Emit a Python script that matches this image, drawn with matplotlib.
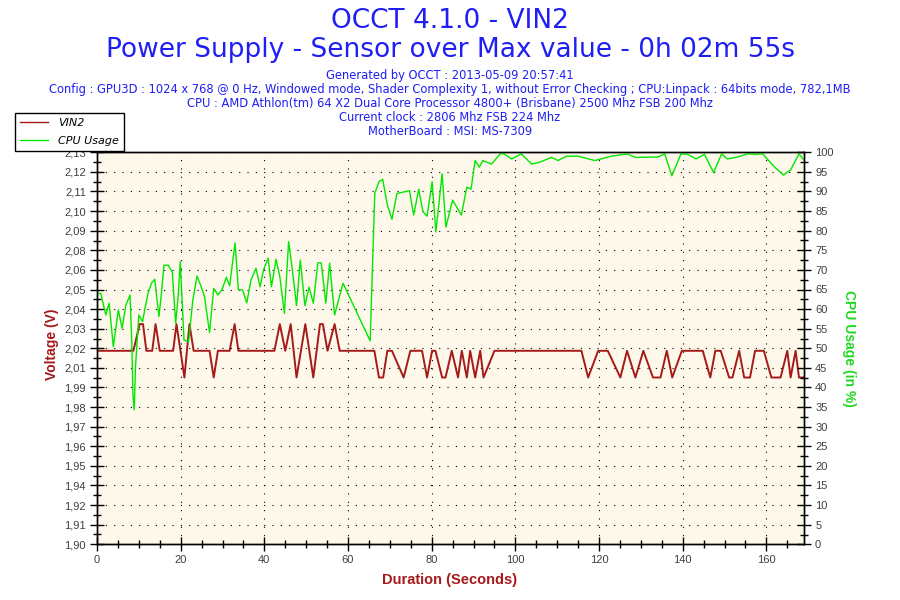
import numpy as np
import matplotlib
matplotlib.use('Agg')
import matplotlib.pyplot as plt
from matplotlib import font_manager
from matplotlib.lines import Line2D
from matplotlib.ticker import FixedLocator, FixedFormatter, MultipleLocator

# VIN2 (Volts) - knots
vin_t = [0, 8.7, 10.2, 11.0, 11.8, 13.2, 14.0, 15.0, 18.2, 19.0,
         20.9, 22.1, 23.1, 26.9, 27.9, 28.9, 31.7, 32.9, 33.8, 42.4,
         43.7, 45.0, 46.3, 47.7, 49.8, 51.7, 53.3, 54.0, 55.1, 56.8,
         58.0, 66.3, 67.4, 68.4, 69.4, 70.5, 73.3, 74.9, 77.7, 78.9,
         80.1, 80.9, 82.5, 83.3, 84.8, 86.3, 87.2, 88.4, 89.2, 90.4,
         91.6, 92.4, 95.0, 115.8, 117.4, 119.8, 122.1, 125.1, 126.7, 128.7,
         130.6, 132.9, 134.7, 136.2, 137.5, 139.8, 144.8, 146.6, 147.8, 149.1,
         151.1, 151.9, 153.5, 154.7, 156.1, 157.3, 159.4, 161.2, 163.4, 165.0,
         165.8, 167.0, 167.8, 169.0]
vin_v = [2.016, 2.016, 2.032, 2.032, 2.016, 2.016, 2.032, 2.016, 2.016, 2.032,
         2.000, 2.032, 2.016, 2.016, 2.000, 2.016, 2.016, 2.032, 2.016, 2.016,
         2.032, 2.016, 2.032, 2.000, 2.032, 2.000, 2.032, 2.032, 2.016, 2.032,
         2.016, 2.016, 2.000, 2.000, 2.016, 2.016, 2.000, 2.016, 2.016, 2.000,
         2.016, 2.016, 2.000, 2.000, 2.016, 2.000, 2.016, 2.000, 2.016, 2.000,
         2.016, 2.000, 2.016, 2.016, 2.000, 2.016, 2.016, 2.000, 2.016, 2.000,
         2.016, 2.000, 2.000, 2.016, 2.000, 2.016, 2.016, 2.000, 2.016, 2.016,
         2.000, 2.000, 2.016, 2.000, 2.000, 2.016, 2.016, 2.000, 2.000, 2.016,
         2.000, 2.016, 2.000, 2.000]

# CPU usage (%)
cpu_t = [0, 0.9, 2.1, 2.9, 3.9, 5.1, 6.0, 6.9, 7.9, 8.3,
         8.6, 8.9, 9.2, 10.0, 10.9, 11.4, 12.2, 13.0, 13.8, 14.8,
         15.4, 16.0, 17.0, 18.0, 18.8, 19.4, 19.9, 20.8, 21.9, 22.9,
         23.9, 24.9, 25.7, 26.9, 27.9, 28.9, 29.9, 30.9, 31.7, 33.0,
         33.8, 34.8, 35.8, 36.8, 38.0, 39.0, 39.8, 40.9, 41.7, 42.8,
         43.7, 44.8, 45.8, 46.7, 47.7, 48.6, 49.7, 50.7, 51.7, 52.8,
         53.6, 54.7, 55.6, 56.8, 58.8, 65.3, 66.4, 67.4, 68.3, 69.4,
         70.5, 71.7, 74.7, 75.7, 76.9, 77.9, 78.9, 80.1, 81.0, 82.5,
         83.4, 85.0, 87.1, 88.4, 89.4, 90.4, 91.4, 92.2, 94.3, 96.4,
         97.3, 99.1, 101.4, 103.9, 105.9, 108.6, 110.2, 112.2, 115.0, 119.0,
         122.9, 126.8, 128.6, 134.1, 135.7, 137.4, 139.6, 141.2, 143.2, 145.2,
         147.4, 149.3, 150.7, 153.1, 155.5, 157.5, 159.1, 161.9, 164.1, 165.8,
         167.8, 169.0]
cpu_v = [64, 64, 58.5, 61.5, 50.4, 59.8, 55.1, 61, 63.6, 52.1,
         37.7, 34.3, 45.3, 58.5, 56.8, 59.8, 64, 66.6, 67.6, 58.1,
         64, 71.2, 71.2, 69.5, 56.4, 63.2, 72.1, 52.1, 51.7, 62.3,
         68.4, 65.7, 63.2, 54, 65.3, 63.6, 65, 68.1, 65.9, 76.9,
         64.9, 64.9, 61.6, 67.4, 70.4, 65.7, 70, 73, 65.7, 72.7,
         68.3, 58.9, 77.2, 70, 60.9, 72.5, 60.9, 65.6, 61.5, 71.8,
         71.8, 61.5, 71.7, 58.5, 66.6, 51.9, 89.5, 92.5, 93.1, 86.6,
         82.9, 89.5, 90.2, 84, 90.6, 84.9, 83.7, 92.5, 79.7, 94.5,
         80.9, 87.8, 84, 91.1, 90.6, 97.9, 96.2, 97.9, 97, 99.6,
         99.6, 98.3, 99.6, 97, 97.5, 98.7, 97.9, 99, 99, 97.9,
         99, 99.6, 98.7, 98.8, 99.6, 94, 99.6, 99.5, 98.3, 99.5,
         94.8, 99.6, 98.3, 98.8, 99.6, 99.5, 99.6, 96.3, 94.2, 95.5,
         99.6, 98]

volt_labels = ['1,90', '1,91', '1,92', '1,94', '1,95', '1,96', '1,97', '1,98', '1,99', '2,01',
               '2,02', '2,03', '2,04', '2,05', '2,06', '2,08', '2,09', '2,10', '2,11', '2,12', '2,13']

title1 = 'OCCT 4.1.0 - VIN2'
title2 = 'Power Supply - Sensor over Max value - 0h 02m 55s'
info_lines = ['Generated by OCCT : 2013-05-09 20:57:41',
              'Config : GPU3D : 1024 x 768 @ 0 Hz, Windowed mode, Shader Complexity 1, without Error Checking ; CPU:Linpack : 64bits mode, 782,1MB',
              'CPU : AMD Athlon(tm) 64 X2 Dual Core Processor 4800+ (Brisbane) 2500 Mhz FSB 200 Mhz',
              'Current clock : 2806 Mhz FSB 224 Mhz',
              'MotherBoard : MSI: MS-7309']

RED = '#A51A1A'
GREEN = '#00E800'
BLUE = '#1E1EF5'
TICKC = '#404040'

names = {f.name for f in font_manager.fontManager.ttflist}
if 'Liberation Sans Narrow' in names:
    narrow = dict(family='Liberation Sans Narrow')
else:
    narrow = dict(family='Liberation Sans', stretch='condensed')

fig = plt.figure(figsize=(9, 6), dpi=100)
ax = fig.add_axes([97 / 900, 1 - 544.3 / 600, (804 - 97) / 900, (544.3 - 152.3) / 600])
ax.set_facecolor('#FDF8E9')

ax2 = ax.twinx()
ax2.plot(cpu_t, cpu_v, color=GREEN, lw=1.0)
ax.plot(vin_t, vin_v, color=RED, lw=1.4)

ax.set_xlim(0, 169)
ax.set_ylim(1.90, 2.135)
ax2.set_ylim(0, 100)

vt = np.linspace(1.90, 2.135, 21)
ax.yaxis.set_major_locator(FixedLocator(vt))
ax.yaxis.set_major_formatter(FixedFormatter(volt_labels))
ax.yaxis.set_minor_locator(FixedLocator((vt[:-1] + vt[1:]) / 2))
ax.xaxis.set_major_locator(MultipleLocator(20))
ax.xaxis.set_minor_locator(MultipleLocator(5))
ax2.yaxis.set_major_locator(MultipleLocator(5))
ax2.yaxis.set_minor_locator(MultipleLocator(2.5))

for a in (ax, ax2):
    a.tick_params(which='major', direction='inout', length=10, width=1,
                  labelsize=8, labelcolor=TICKC, pad=3)
    a.tick_params(which='minor', direction='inout', length=6, width=1)
    for s in a.spines.values():
        s.set_color('black')
        s.set_linewidth(1)
for lab in ax.get_xticklabels() + ax.get_yticklabels() + ax2.get_yticklabels():
    lab.set_family('Liberation Sans')

ax.grid(True, which='major', color='black', linestyle=(0, (1, 6.5)), lw=0.8)
ax.set_axisbelow(True)

fig.text(0.5, 1 - 21 / 600, title1, ha='center', va='center', fontsize=19, color=BLUE)
fig.text(0.5, 1 - 50 / 600, title2, ha='center', va='center', fontsize=19, color=BLUE)
for i, line in enumerate(info_lines):
    fig.text(0.5, 1 - (75 + 14.2 * i) / 600, line, ha='center', va='center',
             fontsize=8.3, color=BLUE)

fig.text(52 / 900, 1 - 344 / 600, 'Voltage (V)', rotation=90, ha='center', va='center',
         fontsize=10, fontweight='bold', color=RED, **narrow)
fig.text(849 / 900, 1 - 348 / 600, 'CPU Usage (in %)', rotation=-90, ha='center', va='center',
         fontsize=10, fontweight='bold', color='#22D822', **narrow)
fig.text(450 / 900, 1 - 580 / 600, 'Duration (Seconds)', ha='center', va='center',
         fontsize=10.5, fontweight='bold', color=RED, **narrow)

handles = [Line2D([], [], color=RED, lw=1), Line2D([], [], color=GREEN, lw=1)]
leg = fig.legend(handles, ['VIN2', 'CPU Usage'], loc='upper left',
                 bbox_to_anchor=(15 / 900, 1 - 113 / 600), frameon=True, fancybox=False,
                 edgecolor='black', framealpha=1, borderaxespad=0, borderpad=0.45,
                 labelspacing=0.75, handlelength=2.5, handletextpad=0.9,
                 prop=dict(size=8, style='italic'))
leg.get_frame().set_linewidth(1)

fig.savefig('out.png', dpi=100)
